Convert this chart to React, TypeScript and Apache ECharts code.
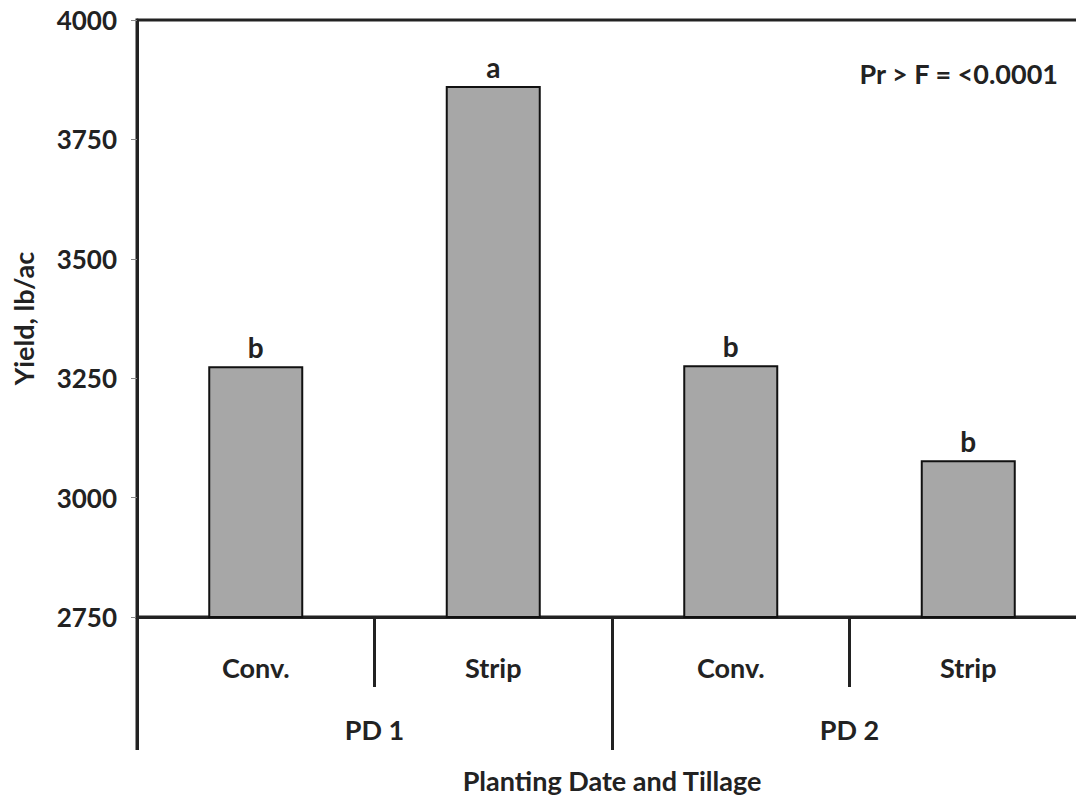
import React, { useEffect, useRef } from "react";
import * as echarts from "echarts";

const categories = ["Conv.", "Strip", "Conv.", "Strip"];
const groups = ["PD 1", "PD 2"];
const yieldValues = [3275, 3862, 3277, 3078];
const letters = ["b", "a", "b", "b"];
const yTicks = { min: 2750, max: 4000, interval: 250 };

const FONT = "Lato";
const INK = "#222222";

export default function App() {
  const ref = useRef<HTMLDivElement>(null);
  useEffect(() => {
    if (!ref.current) return;
    const chart = echarts.init(ref.current, undefined, { renderer: "svg" });
    chart.setOption({
      animation: false,
      backgroundColor: "#ffffff",
      textStyle: { fontFamily: FONT },
      grid: {
        left: 137,
        top: 20,
        right: -11,
        bottom: 185,
        containLabel: false,
        outerBoundsMode: "none",
        show: true,
        borderColor: INK,
        borderWidth: 3,
        backgroundColor: "transparent",
      },
      xAxis: [
        {
          type: "category",
          data: categories,
          position: "bottom",
          axisLine: { show: true, lineStyle: { color: INK, width: 3 } },
          axisTick: { show: true, length: 70, lineStyle: { color: INK, width: 3 } },
          axisLabel: {
            margin: 37,
            fontSize: 27,
            fontWeight: "bold",
            color: INK,
            fontFamily: FONT,
          },
        },
        {
          type: "category",
          data: groups,
          position: "bottom",
          axisLine: { show: false },
          axisTick: { show: true, length: 133, lineStyle: { color: INK, width: 3 } },
          axisLabel: {
            margin: 99,
            fontSize: 27,
            fontWeight: "bold",
            color: INK,
            fontFamily: FONT,
          },
          name: "Planting Date and Tillage",
          nameLocation: "middle",
          nameGap: 150,
          nameTextStyle: { fontSize: 27, fontWeight: "bold", color: INK, fontFamily: FONT },
        },
      ],
      yAxis: {
        type: "value",
        min: yTicks.min,
        max: yTicks.max,
        interval: yTicks.interval,
        name: "Yield, lb/ac",
        nameLocation: "middle",
        nameGap: 100,
        nameTextStyle: { fontSize: 27, fontWeight: "bold", color: INK, fontFamily: FONT },
        axisLine: { show: true, lineStyle: { color: INK, width: 3 } },
        axisTick: { show: true, length: 6, lineStyle: { color: "#888888", width: 1 } },
        splitLine: { show: false },
        axisLabel: {
          margin: 20,
          fontSize: 26,
          fontWeight: "bold",
          color: INK,
          fontFamily: FONT,
          formatter: (v: number) => String(v),
        },
      },
      series: [
        {
          type: "bar",
          xAxisIndex: 0,
          data: yieldValues,
          barWidth: "40%",
          itemStyle: { color: "#a7a7a7", borderColor: "#111111", borderWidth: 2 },
          label: {
            show: true,
            position: "top",
            distance: 5,
            formatter: (p: any) => letters[p.dataIndex],
            fontSize: 28,
            fontWeight: "bold",
            color: INK,
            fontFamily: FONT,
          },
        },
      ],
      graphic: [
        {
          type: "line",
          shape: { x1: 137, y1: 617, x2: 137, y2: 750 },
          style: { stroke: INK, lineWidth: 3 },
        },
        {
          type: "text",
          x: 1058,
          y: 73,
          style: {
            text: "Pr > F = <0.0001",
            textAlign: "right",
            textVerticalAlign: "middle",
            fontSize: 27,
            fontWeight: "bold",
            fill: INK,
            fontFamily: FONT,
          },
        },
      ],
    });
    return () => chart.dispose();
  }, []);
  return (
    <div
      ref={ref}
      style={{ position: "fixed", left: 0, top: 0, width: 1076, height: 802 }}
    />
  );
}
